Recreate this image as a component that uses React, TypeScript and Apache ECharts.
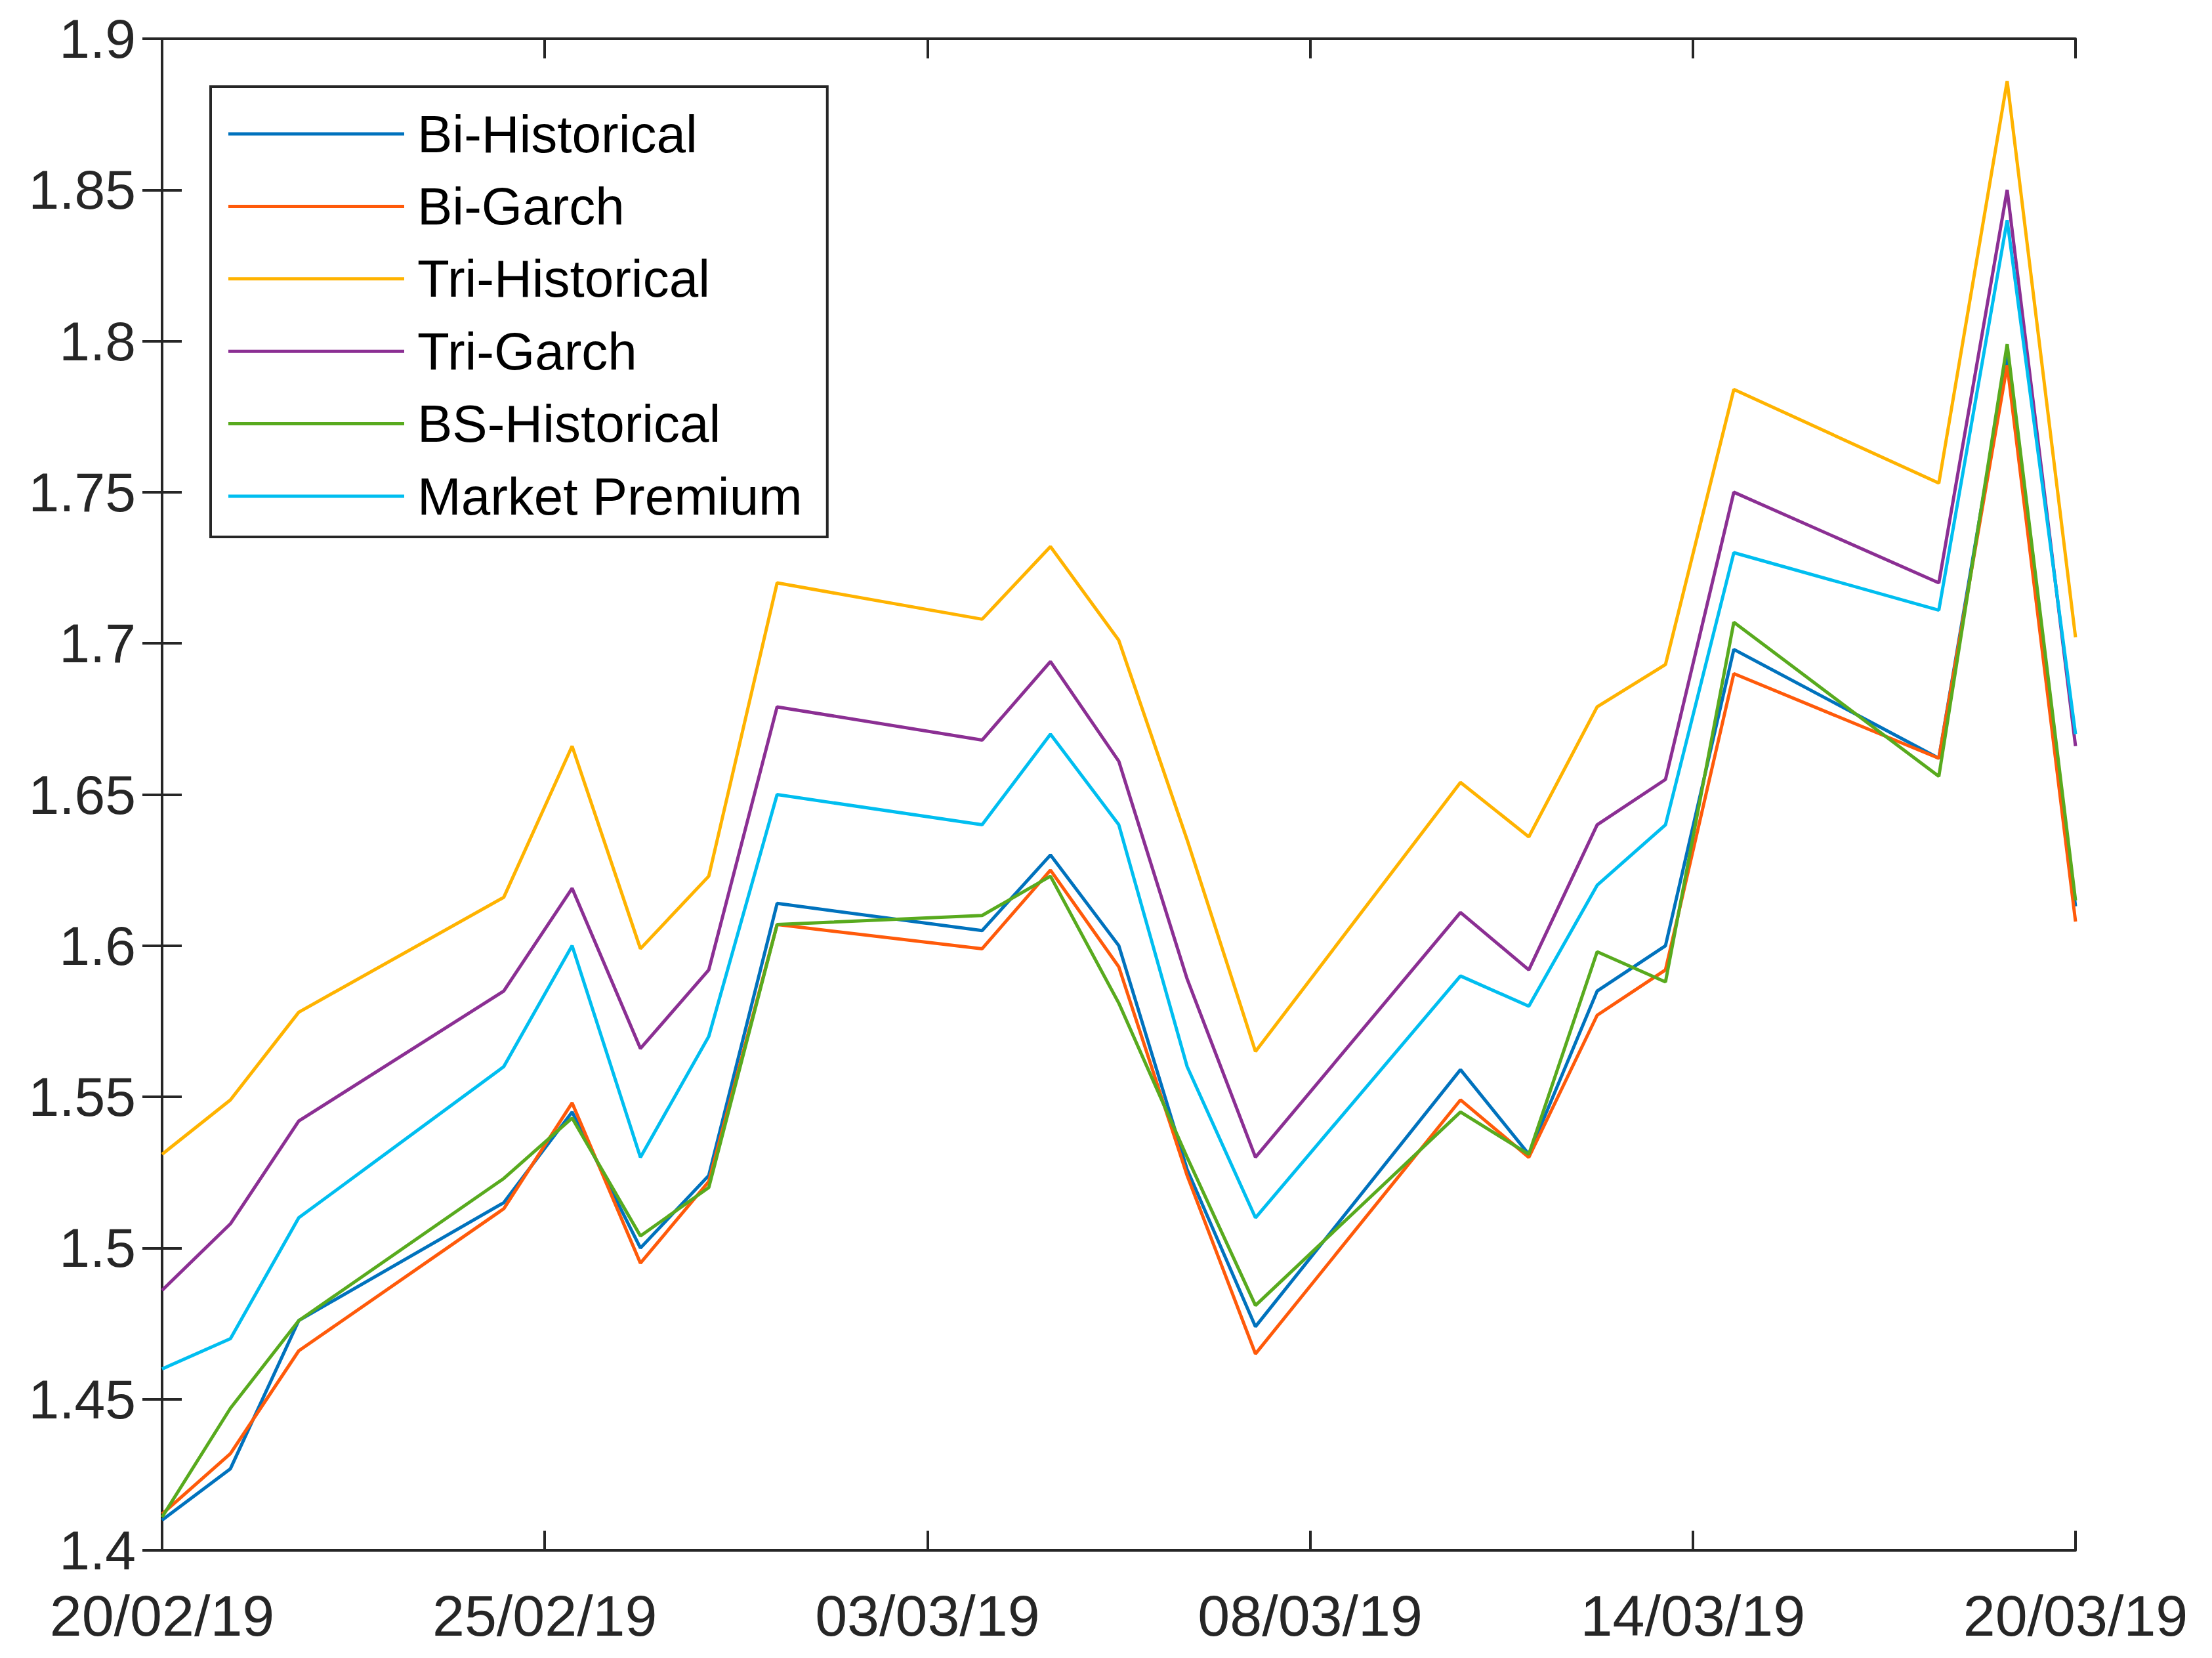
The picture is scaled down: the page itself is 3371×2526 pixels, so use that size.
import React, { useEffect, useRef } from 'react';
import * as echarts from 'echarts';

// trading days shown on the chart
const dates = [
  '2019-02-20', '2019-02-21', '2019-02-22', '2019-02-25', '2019-02-26', '2019-02-27',
  '2019-02-28', '2019-03-01', '2019-03-04', '2019-03-05', '2019-03-06', '2019-03-07',
  '2019-03-08', '2019-03-11', '2019-03-12', '2019-03-13', '2019-03-14', '2019-03-15',
  '2019-03-18', '2019-03-19', '2019-03-20',
];

const biHistorical = [
  1.410, 1.427, 1.476, 1.515, 1.545, 1.500, 1.524, 1.614, 1.605, 1.630, 1.600,
  1.526, 1.474, 1.559, 1.531, 1.585, 1.600, 1.698, 1.662, 1.795, 1.613,
];
const biGarch = [
  1.412, 1.432, 1.466, 1.513, 1.548, 1.495, 1.522, 1.607, 1.599, 1.625, 1.593,
  1.524, 1.465, 1.549, 1.530, 1.577, 1.592, 1.690, 1.662, 1.792, 1.608,
];
const triHistorical = [
  1.531, 1.549, 1.578, 1.616, 1.666, 1.599, 1.623, 1.720, 1.708, 1.732, 1.701,
  1.635, 1.565, 1.654, 1.636, 1.679, 1.693, 1.784, 1.753, 1.886, 1.702,
];
const triGarch = [
  1.486, 1.508, 1.542, 1.585, 1.619, 1.566, 1.592, 1.679, 1.668, 1.694, 1.661,
  1.589, 1.530, 1.611, 1.592, 1.640, 1.655, 1.750, 1.720, 1.850, 1.666,
];
const bsHistorical = [
  1.411, 1.447, 1.476, 1.523, 1.543, 1.504, 1.520, 1.607, 1.610, 1.623, 1.581,
  1.530, 1.481, 1.545, 1.531, 1.598, 1.588, 1.707, 1.656, 1.799, 1.615,
];
const marketPremium = [
  1.460, 1.470, 1.510, 1.560, 1.600, 1.530, 1.570, 1.650, 1.640, 1.670, 1.640,
  1.560, 1.510, 1.590, 1.580, 1.620, 1.640, 1.730, 1.711, 1.840, 1.670,
];

const seriesList = [
  { name: 'Bi-Historical', values: biHistorical, color: '#0072BD' },
  { name: 'Bi-Garch', values: biGarch, color: '#FF5A0A' },
  { name: 'Tri-Historical', values: triHistorical, color: '#FFB300' },
  { name: 'Tri-Garch', values: triGarch, color: '#8B2F93' },
  { name: 'BS-Historical', values: bsHistorical, color: '#58AA1E' },
  { name: 'Market Premium', values: marketPremium, color: '#00BEF0' },
];

const DAY = 86400000;
const start = Date.parse(dates[0]);
const span = (Date.parse(dates[dates.length - 1]) - start) / DAY;
const dayOffset = (s: string) => (Date.parse(s) - start) / DAY;

const pad = (n: number) => (n < 10 ? '0' + n : '' + n);
const dateLabel = (v: number) => {
  const d = new Date(start + Math.floor(v + 1e-6) * DAY);
  return `${pad(d.getUTCDate())}/${pad(d.getUTCMonth() + 1)}/${pad(d.getUTCFullYear() % 100)}`;
};

const font = '"Liberation Sans", Arial, Helvetica, sans-serif';
const ink = '#262626';

const App: React.FC = () => {
  const chartRef = useRef<HTMLDivElement>(null);

  useEffect(() => {
    if (!chartRef.current) return;
    const chart = echarts.init(chartRef.current, undefined, { renderer: 'svg' });

    const axisLine = { show: true, lineStyle: { color: ink, width: 4 } };
    const axisTick = { show: true, inside: true, length: 30, lineStyle: { color: ink, width: 4 } };
    const xBase = {
      type: 'value' as const,
      min: 0,
      max: span,
      interval: span / 5,
      axisLine,
      axisTick,
      splitLine: { show: false },
    };
    const yBase = {
      type: 'value' as const,
      min: 1.4,
      max: 1.9,
      interval: 0.05,
      axisLine,
      axisTick,
      splitLine: { show: false },
    };

    const option: echarts.EChartsOption = {
      animation: false,
      backgroundColor: '#fff',
      grid: { left: 247, right: 208, top: 59, bottom: 164, outerBoundsMode: 'none' } as any,
      xAxis: [
        {
          ...xBase,
          position: 'bottom',
          axisLabel: {
            fontSize: 88,
            fontFamily: font,
            color: ink,
            margin: 55,
            showMinLabel: true,
            showMaxLabel: true,
            formatter: (v: number) => dateLabel(v),
          },
        },
        { ...xBase, position: 'top', axisLabel: { show: false } },
      ],
      yAxis: [
        {
          ...yBase,
          position: 'left',
          axisLabel: {
            fontSize: 84,
            fontFamily: font,
            color: ink,
            margin: 40,
            formatter: (v: number) => String(parseFloat(v.toFixed(2))),
          },
        },
        { ...yBase, position: 'right', axisLabel: { show: false } },
      ],
      legend: {
        orient: 'vertical',
        left: 321,
        top: 132,
        icon: 'rect',
        itemWidth: 268,
        itemHeight: 5,
        itemGap: 20.4,
        padding: [27, 38, 17, 27],
        borderColor: ink,
        borderWidth: 4,
        backgroundColor: '#fff',
        textStyle: {
          fontSize: 80,
          lineHeight: 90,
          fontFamily: font,
          color: '#000',
          padding: [0, 0, 0, 15],
        },
        data: seriesList.map((s) => s.name),
      },
      series: seriesList.map((s) => ({
        name: s.name,
        type: 'line' as const,
        symbol: 'none',
        color: s.color,
        lineStyle: { color: s.color, width: 5 },
        data: dates.map((d, i) => [dayOffset(d), s.values[i]]),
      })),
    };

    chart.setOption(option);
    return () => {
      chart.dispose();
    };
  }, []);

  return (
    <div
      ref={chartRef}
      style={{ position: 'absolute', left: 0, top: 0, width: '3371px', height: '2526px' }}
    />
  );
};

export default App;
